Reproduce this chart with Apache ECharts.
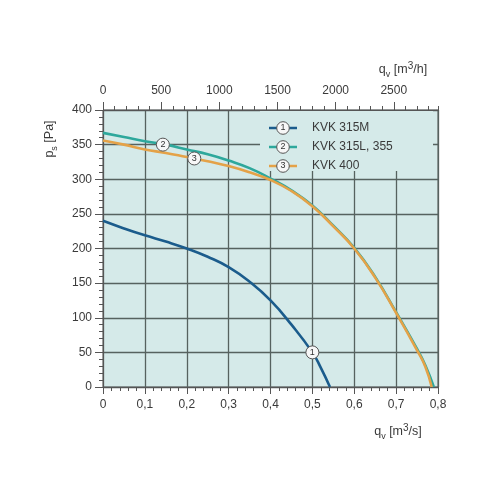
<!DOCTYPE html>
<html>
<head>
<meta charset="utf-8">
<script src="https://cdn.jsdelivr.net/npm/echarts@6/dist/echarts.min.js"></script>
<style>html,body{margin:0;padding:0;background:#fff}#c{width:500px;height:500px}</style>
</head>
<body>
<div id="c"></div>
<script>
// --- data (q_v in m3/s, p_s in Pa) ---
var seriesNames = ['KVK 315M', 'KVK 315L, 355', 'KVK 400'];
var curve1 = [[0,240],[0.05,229],[0.1,219],[0.15,210],[0.2,200],[0.25,188],[0.3,173],[0.35,152],[0.4,125],[0.45,90],[0.5,50],[0.52,28],[0.542,0]];
var curve2 = [[0,367],[0.05,361],[0.1,355],[0.15,350],[0.2,343],[0.25,336],[0.3,327],[0.35,316],[0.4,301],[0.45,284],[0.5,262],[0.55,233],[0.6,201],[0.65,159],[0.7,108],[0.75,55],[0.77,31],[0.79,0]];
var curve3 = [[0,356],[0.05,350],[0.1,343],[0.15,338],[0.2,332],[0.25,326],[0.3,319],[0.35,310],[0.4,299],[0.45,283],[0.5,261],[0.55,232],[0.6,200],[0.65,158],[0.7,107],[0.75,53],[0.77,29],[0.785,0]];
var curveMarkers = [[0.5,50,'1'],[0.143,350,'2'],[0.218,330,'3']];
var topTickLabels = [0,500,1000,1500,2000,2500];
var colors = ['#1b5c8c', '#2ea89c', '#e4a248'];

var FONT = 'Liberation Sans, Arial, sans-serif';
var txt = '#3a3a3a';
var gridLine = '#56625f';
var bg = '#d5eae9';

function comma(v){ return String(Math.round(v*10)/10).replace('.', ','); }

var chart = echarts.init(document.getElementById('c'));

function legendRow(i, y){
  return [
    {type:'line', shape:{x1:269,y1:y,x2:297,y2:y}, style:{stroke:colors[i], lineWidth:2.5}, z:101},
    {type:'circle', shape:{cx:283,cy:y,r:6.3}, style:{fill:'#f7f7f7', stroke:'#555', lineWidth:1}, z:102},
    {type:'text', x:283, y:y, style:{text:String(i+1), fontSize:9, fontFamily:FONT, fill:'#333', align:'center', verticalAlign:'middle'}, z:103},
    {type:'text', x:312, y:y, style:{text:seriesNames[i], fontSize:12, fontFamily:FONT, fill:txt, align:'left', verticalAlign:'middle'}, z:103}
  ];
}

var graphics = [
  {type:'rect', shape:{x:260,y:111,width:173,height:60}, style:{fill:bg}, z:100}
].concat(legendRow(0,128), legendRow(1,147), legendRow(2,166)).concat([
  {type:'text', x:50, y:139, rotation:Math.PI/2, style:{
    text:'{a|p}{s|s}{a| [Pa]}', align:'center', verticalAlign:'middle',
    rich:{a:{fontSize:12.5, fontFamily:FONT, fill:txt, lineHeight:18}, s:{fontSize:9, fontFamily:FONT, fill:txt, verticalAlign:'bottom', lineHeight:14}}
  }, z:100},
  {type:'text', x:398, y:432, style:{
    text:'{a|q}{s|v}{a| [m}{p|3}{a|/s]}', align:'center', verticalAlign:'middle',
    rich:{a:{fontSize:12.5, fontFamily:FONT, fill:txt, lineHeight:18}, s:{fontSize:9, fontFamily:FONT, fill:txt, verticalAlign:'bottom', lineHeight:12}, p:{fontSize:10, fontFamily:FONT, fill:txt, verticalAlign:'top', lineHeight:12}}
  }, z:100},
  {type:'text', x:403, y:70, style:{
    text:'{a|q}{s|v}{a| [m}{p|3}{a|/h]}', align:'center', verticalAlign:'middle',
    rich:{a:{fontSize:12.5, fontFamily:FONT, fill:txt, lineHeight:18}, s:{fontSize:9, fontFamily:FONT, fill:txt, verticalAlign:'bottom', lineHeight:12}, p:{fontSize:10, fontFamily:FONT, fill:txt, verticalAlign:'top', lineHeight:12}}
  }, z:100}
]);

function lineSeries(i, data){
  return {
    type:'line', name:seriesNames[i], data:data, xAxisIndex:0, yAxisIndex:0,
    smooth:0.5, showSymbol:false, symbol:'none',
    lineStyle:{color:colors[i], width:2.6}, z:3+i, silent:true
  };
}

chart.setOption({
  animation:false,
  backgroundColor:'#ffffff',
  grid:{left:103, right:62, top:110, bottom:113, show:true, backgroundColor:bg, borderColor:'#555', borderWidth:1},
  xAxis:[
    {type:'value', position:'bottom', min:0, max:0.8, interval:0.1,
     axisLine:{show:true, lineStyle:{color:'#555', width:1}},
     axisTick:{show:true, length:7, lineStyle:{color:'#555'}},
     minorTick:{show:true, splitNumber:5, length:4, lineStyle:{color:'#555'}},
     splitLine:{show:true, lineStyle:{color:gridLine, width:1.3}},
     axisLabel:{margin:12, fontSize:12, fontFamily:FONT, color:txt, formatter:comma}},
    {type:'value', position:'top', min:0, max:2880, interval:100,
     axisLine:{show:true, lineStyle:{color:'#555', width:1}},
     axisTick:{show:true, length:4, lineStyle:{color:'#555'}},
     splitLine:{show:false}, axisLabel:{show:false}},
    {type:'value', position:'top', min:0, max:2880,
     axisLine:{show:false},
     axisTick:{show:true, length:8, customValues:topTickLabels, lineStyle:{color:'#555'}},
     splitLine:{show:false},
     axisLabel:{margin:13, fontSize:12, fontFamily:FONT, color:txt, customValues:topTickLabels,
                formatter:function(v){ return String(v); }}}
  ],
  yAxis:[
    {type:'value', min:0, max:400, interval:50,
     axisLine:{show:true, lineStyle:{color:'#555', width:1}},
     axisTick:{show:true, length:8, lineStyle:{color:'#555'}},
     minorTick:{show:true, splitNumber:5, length:4, lineStyle:{color:'#555'}},
     splitLine:{show:true, lineStyle:{color:gridLine, width:1.3}},
     axisLabel:{margin:11, fontSize:12, fontFamily:FONT, color:txt}}
  ],
  series:[
    lineSeries(0, curve1),
    lineSeries(1, curve2),
    lineSeries(2, curve3),
    {type:'scatter', data:curveMarkers, symbol:'circle', symbolSize:13, z:10, silent:true,
     itemStyle:{color:'#f7f7f7', borderColor:'#555', borderWidth:1, opacity:1},
     label:{show:true, position:'inside', fontSize:9, fontFamily:FONT, color:'#333', formatter:function(p){return p.value[2];}}}
  ],
  graphic:graphics
});
</script>
</body>
</html>
